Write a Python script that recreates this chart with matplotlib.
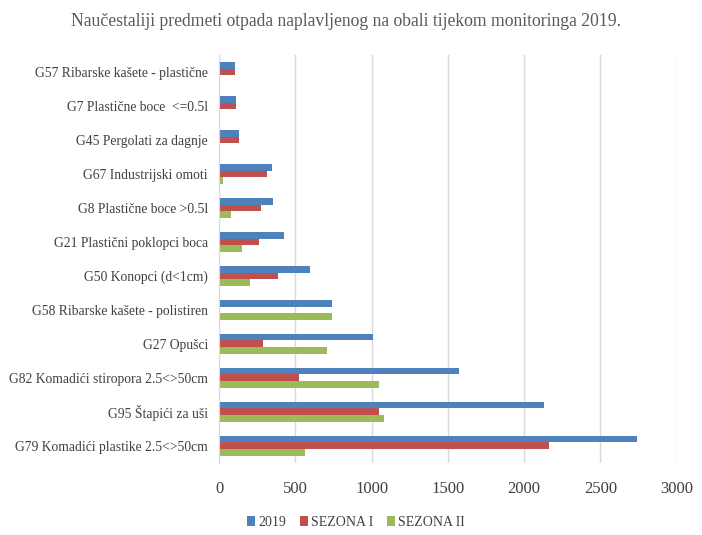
import numpy as np
import matplotlib.pyplot as plt

plt.rcParams['font.family'] = ['Liberation Serif', 'DejaVu Serif']

categories = [
    "G57 Ribarske kašete - plastične",
    "G7 Plastične boce  <=0.5l",
    "G45 Pergolati za dagnje",
    "G67 Industrijski omoti",
    "G8 Plastične boce >0.5l",
    "G21 Plastični poklopci boca",
    "G50 Konopci (d<1cm)",
    "G58 Ribarske kašete - polistiren",
    "G27 Opušci",
    "G82 Komadići stiropora 2.5<>50cm",
    "G95 Štapići za uši",
    "G79 Komadići plastike 2.5<>50cm",
]
y2019 = [105, 111, 131, 349, 356, 424, 594, 742, 1007, 1574, 2133, 2738]
sezona1 = [105, 111, 131, 314, 275, 264, 389, 0, 290, 524, 1048, 2163]
sezona2 = [0, 0, 0, 24, 77, 151, 201, 742, 710, 1048, 1083, 563]

fig = plt.figure(figsize=(7.02, 5.35), dpi=100)
ax = fig.add_axes([0.312, 0.135, 0.652, 0.762])

y = np.arange(len(categories))
h = 0.2
ax.barh(y - h, y2019, height=h, color='#4F81BD', label='2019')
ax.barh(y, sezona1, height=h, color='#C0504D', label='SEZONA I')
ax.barh(y + h, sezona2, height=h, color='#9BBB59', label='SEZONA II')

ax.set_yticks(y)
ax.set_yticklabels(categories, fontsize=9.8, color='#404040')
ax.set_ylim(len(categories) - 0.5, -0.5)
ax.set_xlim(0, 3000)
ax.set_xticks(range(0, 3001, 500))
ax.tick_params(axis='x', labelsize=12, colors='#404040', length=0, pad=13)
ax.tick_params(axis='y', length=0, pad=8)
ax.grid(axis='x', color='#d9d9d9', linewidth=1)
ax.set_axisbelow(True)
for s in ['top', 'right', 'bottom']:
    ax.spines[s].set_visible(False)
ax.spines['left'].set_color('#d9d9d9')

fig.suptitle('Naučestaliji predmeti otpada naplavljenog na obali tijekom monitoringa 2019.',
             x=0.493, y=0.975, fontsize=12.7, color='#595959')
fig.legend(loc='lower center', bbox_to_anchor=(0.507, -0.012), ncol=3, frameon=False,
           fontsize=10, handlelength=0.6, handleheight=0.7, columnspacing=1.0,
           handletextpad=0.2, labelcolor='#404040')

fig.savefig('out.png', dpi=100)
